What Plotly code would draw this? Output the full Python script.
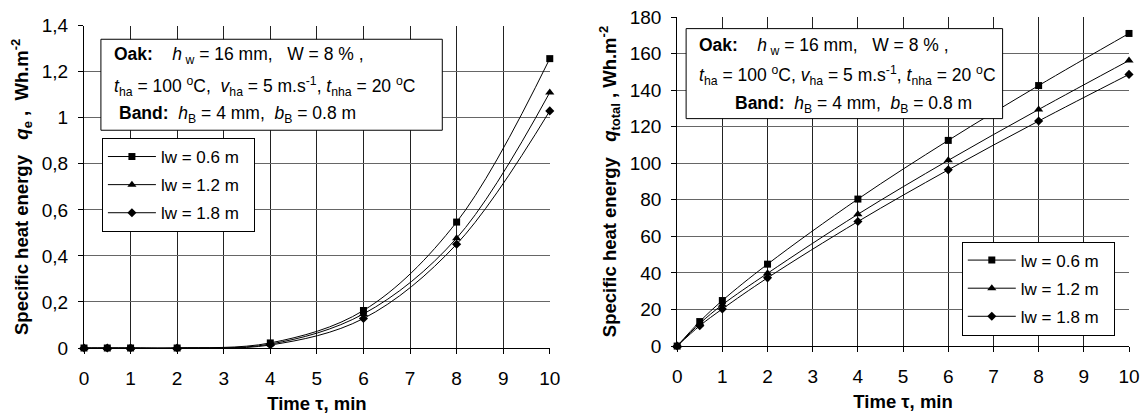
import plotly.graph_objects as go

# ---------------- data ----------------
time_min = [0, 0.5, 1, 2, 4, 6, 8, 10]
series_names = ["lw = 0.6 m", "lw = 1.2 m", "lw = 1.8 m"]
qe_06 = [0, 0, 0, 0, 0.022, 0.163, 0.547, 1.257]
qe_12 = [0, 0, 0, 0, 0.017, 0.148, 0.477, 1.110]
qe_18 = [0, 0, 0, 0, 0.013, 0.128, 0.451, 1.030]
qt_06 = [0, 13.4, 24.9, 44.8, 80.4, 112.5, 142.5, 171.0]
qt_12 = [0, 12.3, 22.6, 39.8, 72.1, 101.6, 129.4, 156.2]
qt_18 = [0, 11.1, 20.3, 37.3, 68.1, 96.4, 123.1, 148.6]
x_ticks = list(range(0, 11))
qe_ticks = [0, 0.2, 0.4, 0.6, 0.8, 1.0, 1.2, 1.4]
qe_ticklabels = ["0", "0,2", "0,4", "0,6", "0,8", "1", "1,2", "1,4"]
qt_ticks = list(range(0, 181, 20))

symbols = ["square", "triangle-up", "diamond"]
marker_sizes = [7, 8, 7]
FONT = "Arial, Liberation Sans, sans-serif"
NB = "\u00a0"

W, H = 1147, 418
ML, MR, MT, MB = 84, 13, 7, 69
PW, PH = W - ML - MR, H - MT - MB


def px2x(px):
    return (px - ML) / PW


def px2y(py):
    return (H - MB - py) / PH


def sp(n):
    return NB * n


fig = go.Figure()

left_sets = [qe_06, qe_12, qe_18]
right_sets = [qt_06, qt_12, qt_18]
for i, (name, ys) in enumerate(zip(series_names, left_sets)):
    fig.add_trace(go.Scatter(
        x=time_min, y=ys, name=name + sp(2), mode="lines+markers",
        line=dict(color="black", width=1, shape="spline", smoothing=1),
        marker=dict(symbol=symbols[i], size=marker_sizes[i], color="black"),
        xaxis="x", yaxis="y", legend="legend", legendgroup=f"a{i}",
        cliponaxis=False,
    ))
for i, (name, ys) in enumerate(zip(series_names, right_sets)):
    fig.add_trace(go.Scatter(
        x=time_min, y=ys, name=name + sp(2), mode="lines+markers",
        line=dict(color="black", width=1, shape="spline", smoothing=1),
        marker=dict(symbol=symbols[i], size=marker_sizes[i], color="black"),
        xaxis="x2", yaxis="y2", legend="legend2", legendgroup=f"b{i}",
        cliponaxis=False,
    ))

tickfont = dict(family=FONT, size=19, color="black")
titlefont = dict(family=FONT, size=18.5, color="black")

xcommon = dict(
    range=[0, 10], tickvals=x_ticks, showgrid=True, gridcolor="#222222",
    gridwidth=1, showline=True, linecolor="black", linewidth=1,
    ticks="outside", ticklen=5, tickcolor="black", tickfont=tickfont,
    zeroline=False, ticklabelstandoff=8,
    title=dict(text="<b>Time τ, min</b>", font=titlefont, standoff=9),
)
ycommon = dict(
    showgrid=True, gridcolor="#666666", gridwidth=1, showline=True,
    linecolor="black", linewidth=1, ticks="outside", ticklen=5,
    tickcolor="black", tickfont=tickfont, zeroline=False,
    ticklabelstandoff=6,
)

legend_common = dict(
    xanchor="left", yanchor="top", bgcolor="white", bordercolor="black",
    borderwidth=1, font=dict(family=FONT, size=17, color="black"),
    tracegroupgap=3, itemwidth=48,
)

fig.update_layout(
    width=W, height=H,
    margin=dict(l=ML, r=MR, t=MT, b=MB),
    paper_bgcolor="white", plot_bgcolor="white",
    font=dict(family=FONT, color="black"),
    xaxis=dict(domain=[0, px2x(552)], anchor="y", **xcommon),
    xaxis2=dict(domain=[px2x(680), 1.0], anchor="y2", **xcommon),
    yaxis=dict(domain=[0, px2y(16)], anchor="x", range=[0, 1.4],
               tickvals=qe_ticks, ticktext=qe_ticklabels,
               title=dict(text="<b>Specific heat energy" + sp(3) + "<i>q</i><sub>e</sub> ," + sp(2) + "Wh.m<sup>-2</sup></b>",
                          font=titlefont, standoff=8),
               **ycommon),
    yaxis2=dict(domain=[px2y(347), 1.0], anchor="x2", range=[0, 180],
                tickvals=qt_ticks,
                title=dict(text="<b>Specific heat energy" + sp(3) + "<i>q</i><sub>total</sub> , Wh.m<sup>-2</sup></b>",
                           font=titlefont, standoff=8),
                **ycommon),
    legend=dict(x=px2x(102), y=px2y(132), **legend_common),
    legend2=dict(x=px2x(966), y=px2y(239), **legend_common),
    showlegend=True,
)

line1 = "<b>Oak:</b>" + sp(4) + "<i>h</i><sub> w</sub> = 16 mm," + sp(3) + "W = 8 % ,"
line2a = ("<i>t</i><sub>ha</sub> = 100 <sup>o</sup>C," + sp(2) + "<i>v</i><sub>ha</sub> = 5 m.s<sup>-1</sup>, "
          "<i>t</i><sub>nha</sub> = 20 <sup>o</sup>C")
line2b = ("<i>t</i><sub>ha</sub> = 100 <sup>o</sup>C, <i>v</i><sub>ha</sub> = 5 m.s<sup>-1</sup>, "
          "<i>t</i><sub>nha</sub> = 20 <sup>o</sup>C")
line3 = "<b>Band:</b>" + sp(2) + "<i>h</i><sub>B</sub> = 4 mm," + sp(2) + "<i>b</i><sub>B</sub> = 0.8 m"

# parameter boxes
boxes = [
    dict(x0=101, x1=444, y0=30, y1=124,
         lines=[(112, 47, line1), (112, 79, line2a), (117, 108, line3)]),
    dict(x0=689, x1=1007, y0=19, y1=112,
         lines=[(700, 37, line1), (700, 67, line2b), (736, 97, line3)]),
]
for b in boxes:
    fig.add_shape(type="rect", xref="paper", yref="paper",
                  x0=px2x(b["x0"]), x1=px2x(b["x1"]),
                  y0=px2y(b["y1"]), y1=px2y(b["y0"]),
                  line=dict(color="black", width=1), fillcolor="white",
                  layer="above")
    for (lx, ly, txt) in b["lines"]:
        fig.add_annotation(xref="paper", yref="paper", x=px2x(lx), y=px2y(ly),
                           xanchor="left", yanchor="middle", showarrow=False,
                           text=txt, font=dict(family=FONT, size=17.5, color="black"))

fig.write_html("out.html")
